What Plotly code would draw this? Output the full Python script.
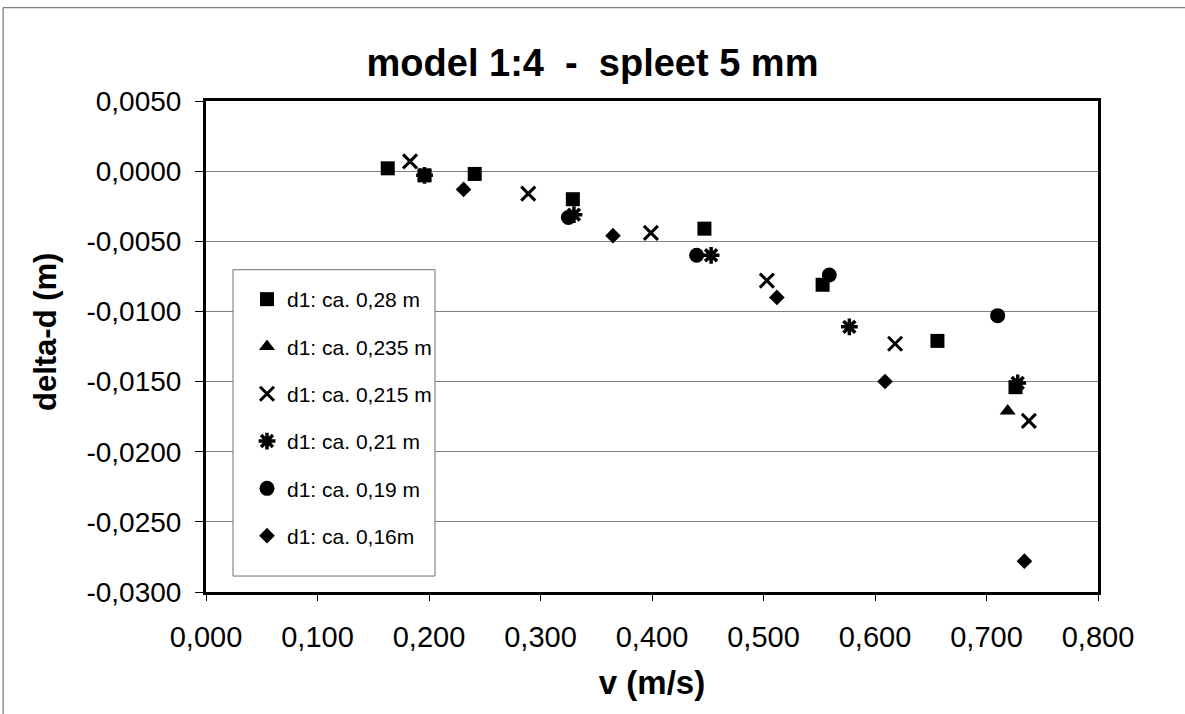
import plotly.graph_objects as go

# ---- data ----
names = ["d1: ca. 0,28 m", "d1: ca. 0,235 m", "d1: ca. 0,215 m",
         "d1: ca. 0,21 m", "d1: ca. 0,19 m", "d1: ca. 0,16m"]

v_028 = [0.163, 0.196, 0.241, 0.329, 0.447, 0.553, 0.656, 0.726]
d_028 = [0.0002, -0.0003, -0.0002, -0.0020, -0.0041, -0.0081, -0.0121, -0.0154]

v_0235 = [0.719]
d_0235 = [-0.0171]

v_0215 = [0.183, 0.289, 0.399, 0.503, 0.618, 0.738]
d_0215 = [0.0007, -0.0016, -0.0044, -0.0078, -0.0123, -0.0178]

v_021 = [0.196, 0.330, 0.453, 0.577, 0.728]
d_021 = [-0.0003, -0.0031, -0.0060, -0.0111, -0.0151]

v_019 = [0.325, 0.440, 0.559, 0.710]
d_019 = [-0.0033, -0.0060, -0.0074, -0.0103]

v_016 = [0.231, 0.365, 0.512, 0.609, 0.734]
d_016 = [-0.0013, -0.0046, -0.0090, -0.0150, -0.0278]

x_tickvals = [0.0, 0.1, 0.2, 0.3, 0.4, 0.5, 0.6, 0.7, 0.8]
x_ticktext = ["0,000", "0,100", "0,200", "0,300", "0,400", "0,500", "0,600", "0,700", "0,800"]
y_tickvals = [0.005, 0.0, -0.005, -0.01, -0.015, -0.02, -0.025, -0.03]
y_ticktext = ["0,0050", "0,0000", "-0,0050", "-0,0100", "-0,0150", "-0,0200", "-0,0250", "-0,0300"]

title_text = "model 1:4  -  spleet 5 mm"
x_title = "v (m/s)"
y_title = "delta-d (m)"

# ---- figure ----
FONT = "Liberation Sans, Arial, sans-serif"
W, H = 1185, 714
series = [
    (v_028, d_028, dict(symbol="square", size=14, color="black")),
    (v_0235, d_0235, dict(symbol="triangle-up", size=14, color="black")),
    (v_0215, d_0215, dict(symbol="x-thin-open", size=14, color="black",
                          line=dict(color="black", width=3))),
    (v_021, d_021, dict(symbol="asterisk-open", size=14, color="black",
                        line=dict(color="black", width=3.5))),
    (v_019, d_019, dict(symbol="circle", size=15, color="black")),
    (v_016, d_016, dict(symbol="diamond", size=12, color="black")),
]

fig = go.Figure()
for i, (xs, ys, mk) in enumerate(series):
    fig.add_trace(go.Scatter(x=xs, y=ys, mode="markers", name=names[i],
                             marker=mk, legendgroup=str(i)))

fig.update_layout(
    width=W, height=H,
    paper_bgcolor="white", plot_bgcolor="white",
    margin=dict(l=206, r=87, t=101, b=122),
    font=dict(family=FONT, color="black"),
    title=dict(text=title_text, x=0.5, xref="container", xanchor="center",
               y=1 - 63 / H, yref="container", yanchor="middle",
               font=dict(family=FONT, size=38, color="black", weight="bold")),
    showlegend=True,
    legend=dict(x=(247 - 206) / 892, y=(592 - 279) / 491,
                xanchor="left", yanchor="top",
                xref="paper", yref="paper",
                bgcolor="rgba(0,0,0,0)", borderwidth=0,
                font=dict(family=FONT, size=21, color="black"),
                tracegroupgap=17, itemwidth=30),
)

fig.update_xaxes(
    range=[0, 0.8], tickvals=x_tickvals, ticktext=x_ticktext,
    showgrid=False, zeroline=False,
    showline=True, linecolor="black", linewidth=3, mirror=True,
    ticks="outside", ticklen=6, tickcolor="black", tickwidth=1,
    tickfont=dict(family=FONT, size=29, color="black"),
    ticklabelstandoff=11,
    title=dict(text=x_title, standoff=20,
               font=dict(family=FONT, size=33, color="black", weight="bold")),
)
fig.update_yaxes(
    range=[-0.03, 0.005], tickvals=y_tickvals, ticktext=y_ticktext,
    showgrid=True, gridcolor="#808080", gridwidth=1, zeroline=False,
    showline=True, linecolor="black", linewidth=3, mirror=True,
    ticks="outside", ticklen=8, tickcolor="black", tickwidth=1,
    tickfont=dict(family=FONT, size=28, color="black"),
    ticklabelstandoff=8,
)

# y-axis title (placed slightly above the axis centre, as in the reference)
fig.add_annotation(text=y_title, textangle=-90, showarrow=False,
                   xref="paper", yref="paper",
                   x=(45 - 206) / 892, y=(592 - 332) / 491,
                   xanchor="center", yanchor="middle",
                   font=dict(family=FONT, size=31, color="black", weight="bold"))

# legend frame (white box with thin grey border)
fig.add_shape(type="rect", xref="x", yref="y",
              x0=(233 - 206) / 1115, x1=(435 - 206) / 1115,
              y0=(171.2 - 577) / 14060, y1=(171.2 - 270) / 14060,
              line=dict(color="#707070", width=1), fillcolor="white",
              layer="above")

# thin outer chart border (left and top edges visible in the reference)
fig.add_shape(type="rect", xref="paper", yref="paper",
              x0=-0.2275, x1=1.2, y0=-0.27, y1=1.19,
              line=dict(color="#606060", width=1), layer="above")

fig.write_html("out.html")
